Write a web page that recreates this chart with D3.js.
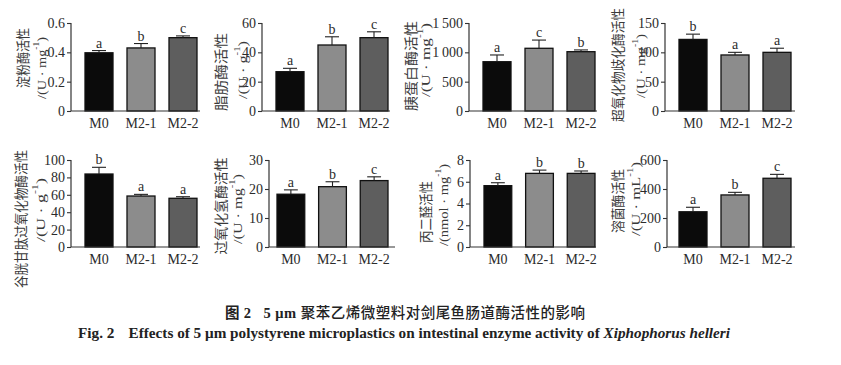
<!DOCTYPE html>
<html><head><meta charset="utf-8">
<script src="https://cdn.jsdelivr.net/npm/d3@7"></script>
<style>
html,body{margin:0;padding:0;background:#fff;}
svg{display:block;}
</style></head>
<body>
<svg id="c" width="841" height="365"></svg>
<script>
// ---------- data ----------
const groups = ["M0", "M2-1", "M2-2"];

const amylaseMean = [0.397, 0.43, 0.50];
const amylaseErr  = [0.015, 0.03, 0.012];
const amylaseSig  = ["a", "b", "c"];
const amylaseTicks = [0, 0.2, 0.4, 0.6];

const lipaseMean = [26.8, 45, 50];
const lipaseErr  = [2.3, 5.6, 4];
const lipaseSig  = ["a", "b", "c"];
const lipaseTicks = [0, 20, 40, 60];

const trypsinMean = [840, 1069, 1011];
const trypsinErr  = [115, 140, 30];
const trypsinSig  = ["a", "c", "b"];
const trypsinTicks = [0, 500, 1000, 1500];

const sodMean = [122, 95.5, 100];
const sodErr  = [9, 4.5, 7];
const sodSig  = ["b", "a", "a"];
const sodTicks = [0, 50, 100, 150];

const gpxMean = [83.9, 58.6, 56];
const gpxErr  = [7.7, 1.9, 1.8];
const gpxSig  = ["b", "a", "a"];
const gpxTicks = [0, 20, 40, 60, 80, 100];

const catMean = [18.2, 20.8, 22.9];
const catErr  = [1.5, 1.7, 1.3];
const catSig  = ["a", "b", "c"];
const catTicks = [0, 10, 20, 30];

const mdaMean = [5.64, 6.77, 6.77];
const mdaErr  = [0.27, 0.3, 0.22];
const mdaSig  = ["a", "b", "b"];
const mdaTicks = [0, 2, 4, 6, 8];

const lzmMean = [243, 359, 474];
const lzmErr  = [31, 18, 27];
const lzmSig  = ["a", "b", "c"];
const lzmTicks = [0, 200, 400, 600];

const yTitles = [
  ["淀粉酶活性", "/(U · mg", "-1", ")"],
  ["脂肪酶活性", "/(U · g", "-1", ")"],
  ["胰蛋白酶活性", "/(U · mg", "-1", ")"],
  ["超氧化物歧化酶活性", "/(U · mg", "-1", ")"],
  ["谷胱甘肽过氧化物酶活性", "/(U · g", "-1", ")"],
  ["过氧化氢酶活性", "/(U · mg", "-1", ")"],
  ["丙二醛活性", "/(nmol · mg", "-1", ")"],
  ["溶菌酶活性", "/(U · mL", "-1", ")"]
];

const captionCn = ["图 2", "5 μm", "聚苯乙烯微塑料对剑尾鱼肠道酶活性的影响"];
const captionEn = ["Fig. 2", "Effects of 5 μm polystyrene microplastics on intestinal enzyme activity of ", "Xiphophorus helleri"];

const panelsData = [
  {mean: amylaseMean, err: amylaseErr, sig: amylaseSig, ticks: amylaseTicks},
  {mean: lipaseMean, err: lipaseErr, sig: lipaseSig, ticks: lipaseTicks},
  {mean: trypsinMean, err: trypsinErr, sig: trypsinSig, ticks: trypsinTicks},
  {mean: sodMean, err: sodErr, sig: sodSig, ticks: sodTicks},
  {mean: gpxMean, err: gpxErr, sig: gpxSig, ticks: gpxTicks},
  {mean: catMean, err: catErr, sig: catSig, ticks: catTicks},
  {mean: mdaMean, err: mdaErr, sig: mdaSig, ticks: mdaTicks},
  {mean: lzmMean, err: lzmErr, sig: lzmSig, ticks: lzmTicks}
];

// ---------- layout ----------
const layout = [
  {ax: 71,  b0: 85,  b1: 197, ae: 200, top: 23,  bot: 111},
  {ax: 262, b0: 276, b1: 388, ae: 390, top: 23,  bot: 111},
  {ax: 469, b0: 483, b1: 595, ae: 597, top: 23,  bot: 111},
  {ax: 665, b0: 679, b1: 791, ae: 795, top: 23,  bot: 111},
  {ax: 71,  b0: 85,  b1: 197, ae: 200, top: 160, bot: 247},
  {ax: 269, b0: 277, b1: 388, ae: 395, top: 160, bot: 247},
  {ax: 470, b0: 484, b1: 595, ae: 596, top: 160, bot: 247},
  {ax: 667, b0: 679, b1: 791, ae: 795, top: 160, bot: 247}
];
// title line positions: x1,center1,len1, x2,center2,len2
const titleLayout = [
  {x1: 22,  c1: 58,  l1: 60,  x2: 41,  c2: 68,  l2: 62},
  {x1: 220, c1: 72,  l1: 78,  x2: 242, c2: 70,  l2: 58},
  {x1: 410, c1: 66,  l1: 90,  x2: 425, c2: 60,  l2: 74},
  {x1: 617, c1: 65,  l1: 114, x2: 640, c2: 66,  l2: 64},
  {x1: 20,  c1: 219, l1: 138, x2: 40,  c2: 210, l2: 64},
  {x1: 220, c1: 206, l1: 97,  x2: 237, c2: 209, l2: 70},
  {x1: 425, c1: 212, l1: 62,  x2: 443, c2: 205, l2: 82},
  {x1: 617, c1: 201, l1: 64,  x2: 635, c2: 199, l2: 74}
];

const barColors = ["#0b0b0b", "#8c8c8c", "#5e5e5e"];
const serif = "'Liberation Serif','Times New Roman',serif";
const cjk = "'Noto Sans CJK SC','Noto Sans CJK JP',sans-serif";
const ink = "#2b2b2b";

const svg = d3.select("#c");

function fmtTick(v) {
  if (v >= 1000) {
    const s = String(v);
    return s.slice(0, s.length - 3) + "\u2009" + s.slice(-3);
  }
  return String(v);
}

panelsData.forEach((p, i) => {
  const L = layout[i];
  const g = svg.append("g");
  const y = d3.scaleLinear()
    .domain([0, p.ticks[p.ticks.length - 1]])
    .range([L.bot, L.top]);
  const x = d3.scaleBand().domain(groups)
    .range([L.b0, L.b1]).paddingInner(1 / 3).paddingOuter(0);

  // bars
  g.selectAll("rect.bar").data(groups).join("rect")
    .attr("x", d => x(d))
    .attr("y", (d, j) => y(p.mean[j]))
    .attr("width", x.bandwidth())
    .attr("height", (d, j) => y(0) - y(p.mean[j]))
    .attr("fill", (d, j) => barColors[j])
    .attr("stroke", "#111").attr("stroke-width", 1.3);

  // error bars
  const cap = x.bandwidth() / 2;
  groups.forEach((d, j) => {
    const cx = x(d) + x.bandwidth() / 2;
    const yt = y(p.mean[j] + p.err[j]);
    g.append("line").attr("x1", cx).attr("x2", cx)
      .attr("y1", y(p.mean[j])).attr("y2", yt)
      .attr("stroke", "#222").attr("stroke-width", 1.1);
    g.append("line").attr("x1", cx - cap / 2).attr("x2", cx + cap / 2)
      .attr("y1", yt).attr("y2", yt)
      .attr("stroke", "#222").attr("stroke-width", 1.1);
    g.append("text").attr("x", cx).attr("y", yt - 3)
      .attr("text-anchor", "middle")
      .attr("font-family", serif).attr("font-size", 14)
      .attr("fill", ink).text(p.sig[j]);
  });

  // y axis
  const ya = g.append("g").attr("transform", `translate(${L.ax},0)`)
    .call(d3.axisLeft(y).tickValues(p.ticks).tickFormat(fmtTick)
      .tickSize(4).tickSizeOuter(0).tickPadding(2));
  ya.select(".domain").attr("stroke", "#333").attr("stroke-width", 1.2)
    .attr("d", `M0,${L.bot}V${L.top}`);
  ya.selectAll(".tick line").attr("stroke", "#333").attr("stroke-width", 1.1);
  ya.selectAll(".tick text").attr("font-family", serif).attr("font-size", 14)
    .attr("fill", ink);

  // x axis
  const xa = g.append("g").attr("transform", `translate(0,${L.bot})`)
    .call(d3.axisBottom(x).tickSize(0).tickPadding(7));
  xa.select(".domain").attr("stroke", "#333").attr("stroke-width", 1.2)
    .attr("d", `M${L.ax},0H${L.ae}`);
  xa.selectAll(".tick text").attr("font-family", serif).attr("font-size", 14)
    .attr("fill", ink);

  // y titles
  const T = titleLayout[i];
  const t = yTitles[i];
  g.append("text")
    .attr("transform", `translate(${T.x1},${T.c1}) rotate(-90)`)
    .attr("text-anchor", "middle").attr("dominant-baseline", "central")
    .attr("font-family", cjk).attr("font-size", 13.5).attr("fill", "#3a3a3a")
    .attr("textLength", T.l1).attr("lengthAdjust", "spacingAndGlyphs")
    .text(t[0]);
  const t2 = g.append("text")
    .attr("transform", `translate(${T.x2},${T.c2}) rotate(-90)`)
    .attr("text-anchor", "middle").attr("dominant-baseline", "central")
    .attr("font-family", serif).attr("font-size", 13).attr("fill", "#3a3a3a")
    .attr("textLength", T.l2).attr("lengthAdjust", "spacingAndGlyphs");
  t2.append("tspan").text(t[1]);
  t2.append("tspan").attr("font-size", 8.5).attr("dy", -5).text(t[2]);
  t2.append("tspan").attr("dy", 5).text(t[3]);
});

// caption
const c1 = svg.append("text").attr("x", 405).attr("y", 318)
  .attr("text-anchor", "middle").attr("fill", "#222").attr("font-size", 14.5)
  .attr("textLength", 360).attr("lengthAdjust", "spacing");
c1.append("tspan").attr("font-family", cjk).attr("font-weight", 700).text("图 ");
c1.append("tspan").attr("font-family", serif).attr("font-weight", 700).text("2");
c1.append("tspan").attr("font-family", serif).attr("font-weight", 700).attr("dx", 12).text(captionCn[1] + " ");
c1.append("tspan").attr("font-family", cjk).attr("font-weight", 500).text(captionCn[2]);

const c2 = svg.append("text").attr("x", 404).attr("y", 338)
  .attr("text-anchor", "middle").attr("fill", "#222")
  .attr("font-family", serif).attr("font-weight", 700).attr("font-size", 15)
  .attr("textLength", 652).attr("lengthAdjust", "spacingAndGlyphs");
c2.append("tspan").text(captionEn[0]);
c2.append("tspan").attr("dx", 14).text(captionEn[1]);
c2.append("tspan").attr("font-style", "italic").text(captionEn[2]);
</script>
</body></html>
